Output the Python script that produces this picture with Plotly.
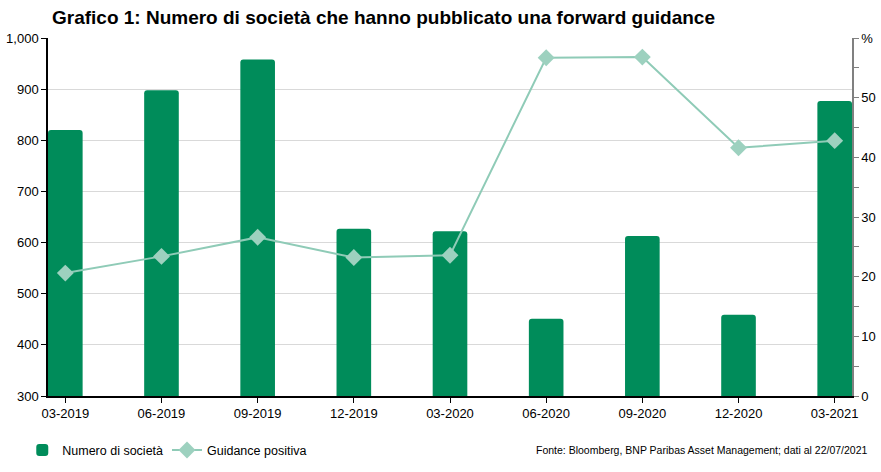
import plotly.graph_objects as go

# Dati
trimestri = ["03-2019", "06-2019", "09-2019", "12-2019", "03-2020",
             "06-2020", "09-2020", "12-2020", "03-2021"]
numero_societa = [820, 898, 958, 627, 622, 451, 613, 459, 877]
guidance_positiva = [20.6, 23.4, 26.6, 23.2, 23.6, 56.7, 56.8, 41.6, 42.8]

pct_ticks = [0, 10, 20, 30, 40, 50, 60]
pct_labels = ["0", "10", "20", "30", "40", "50", "%"]

FONT = "Liberation Sans Narrow, Arial Narrow, Liberation Sans, Arial"
VERDE = "#008C5A"
VERDE_CHIARO = "#8FCBB7"

x = list(range(len(trimestri)))

fig = go.Figure()
fig.add_trace(go.Bar(
    x=x, y=numero_societa, name="Numero di società",
    marker=dict(color=VERDE, line=dict(width=0)),
    width=0.36, legend="legend",
))
fig.add_trace(go.Scatter(
    x=x, y=guidance_positiva, name="Guidance positiva", yaxis="y2",
    mode="lines+markers",
    line=dict(color=VERDE_CHIARO, width=2),
    marker=dict(symbol="diamond", size=13, color="#9DD1BF"),
    legend="legend2",
))

legend_style = dict(orientation="h", xanchor="left", y=-0.152, yanchor="middle",
                    font=dict(family=FONT, size=12.5), bgcolor="rgba(0,0,0,0)")

fig.update_layout(
    width=881, height=472,
    margin=dict(l=48, r=29, t=38, b=76, autoexpand=False),
    paper_bgcolor="white", plot_bgcolor="white",
    font=dict(family=FONT, size=13, color="#000000"),
    barcornerradius=3,
    title=dict(
        text="<b>Grafico 1: Numero di società che hanno pubblicato una forward guidance</b>",
        x=0.059, xanchor="left", y=0.963, yanchor="middle",
        font=dict(family=FONT, size=19, color="#000000"),
    ),
    xaxis=dict(
        range=[-0.18, 8.18], tickvals=x, ticktext=trimestri,
        showline=True, linecolor="#000000", linewidth=1.5,
        ticks="outside", ticklen=5, tickcolor="#000000",
        showgrid=False, zeroline=False, automargin=False,
    ),
    yaxis=dict(
        range=[300, 1000], dtick=100, tickformat=",",
        showline=True, linecolor="#000000", linewidth=1.5,
        ticks="outside", ticklen=5, tickcolor="#000000",
        showgrid=True, gridcolor="#D9D9D9", gridwidth=1, zeroline=False,
        automargin=False,
    ),
    yaxis2=dict(
        overlaying="y", side="right", range=[0, 60],
        tickvals=pct_ticks, ticktext=pct_labels,
        showline=True, linecolor="#808080", linewidth=1.5,
        ticks="outside", ticklen=5, tickcolor="#808080",
        minor=dict(dtick=5, ticks="outside", ticklen=5, tickcolor="#808080"),
        showgrid=False, zeroline=False, automargin=False,
    ),
    legend=dict(x=-0.032, **legend_style),
    legend2=dict(x=0.148, **legend_style),
    showlegend=True,
)

fig.add_annotation(
    text="Fonte: Bloomberg, BNP Paribas Asset Management; dati al 22/07/2021",
    xref="paper", yref="paper", x=1.0224, y=-0.152, xanchor="right", yanchor="middle",
    showarrow=False, font=dict(family=FONT, size=10.5, color="#000000"),
)

# la pagina ha un margine di 8px sul body: lo azzero
fig.write_html("out.html", config={"displayModeBar": False},
               post_script="document.body.style.margin='0';")
